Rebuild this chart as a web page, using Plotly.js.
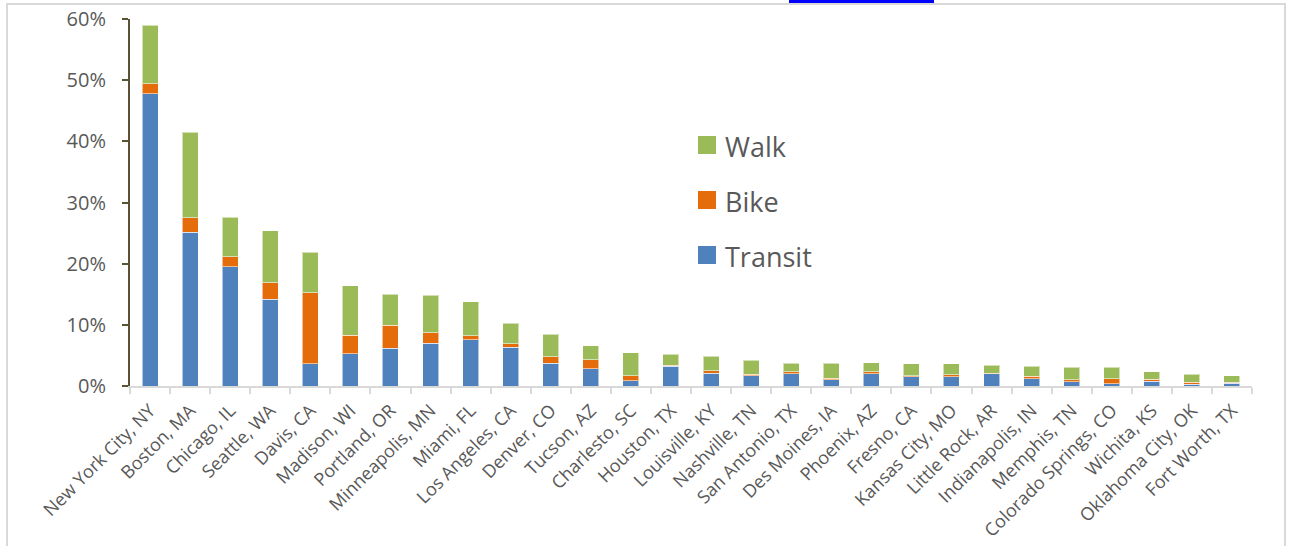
<!DOCTYPE html>
<html><head><meta charset="utf-8">
<script src="https://cdn.plot.ly/plotly-3.0.1.min.js"></script>
<style>
html,body{margin:0;padding:0;background:#fff;overflow:hidden}
#chart{width:1290px;height:546px;position:absolute;left:0;top:0}
#frame{position:absolute;left:6px;top:3px;width:1280px;height:600px;border:2px solid #d9d9d9;box-sizing:border-box;pointer-events:none}
#link{position:absolute;left:789px;top:0;width:145px;height:3px;background:#0000ff}
</style></head><body>
<div id="chart"></div><div id="frame"></div><div id="link"></div>
<script>
const cities = ["New York City, NY","Boston, MA","Chicago, IL","Seattle, WA","Davis, CA","Madison, WI","Portland, OR","Minneapolis, MN","Miami, FL","Los Angeles, CA","Denver, CO","Tucson, AZ","Charlesto, SC","Houston, TX","Louisville, KY","Nashville, TN","San Antonio, TX","Des Moines, IA","Phoenix, AZ","Fresno, CA","Kansas City, MO","Little Rock, AR","Indianapolis, IN","Memphis, TN","Colorado Springs, CO","Wichita, KS","Oklahoma City, OK","Fort Worth, TX"];
const transit = [47.8,25.1,19.5,14.2,3.6,5.3,6.2,7.0,7.6,6.3,3.7,2.8,0.9,3.2,2.1,1.7,2.0,1.0,2.0,1.5,1.5,2.0,1.2,0.7,0.4,0.8,0.3,0.45];
const bike    = [1.6,2.4,1.6,2.7,11.65,3.0,3.7,1.7,0.6,0.6,1.1,1.5,0.8,0.2,0.4,0.25,0.3,0.3,0.3,0.2,0.3,0.1,0.4,0.3,0.8,0.3,0.3,0.2];
const walk    = [9.6,14.0,6.5,8.5,6.65,8.1,5.1,6.1,5.6,3.4,3.7,2.3,3.7,1.8,2.35,2.3,1.45,2.45,1.5,1.9,1.8,1.3,1.6,2.05,1.85,1.2,1.3,1.0];
const seriesNames = ["Transit","Bike","Walk"];
const colors = {Transit:"#4f81bd", Bike:"#e46c0a", Walk:"#9bbb59"};
const yTicks = [0,10,20,30,40,50,60];

const W = 1290, H = 546;
const M = {l:130, r:38, t:19, b:160};
const pw = W - M.l - M.r, ph = H - M.t - M.b;
const px2x = p => (p - M.l) / pw;
const py2y = p => (H - M.b - p) / ph;

const values = {Transit: transit, Bike: bike, Walk: walk};
const traces = seriesNames.map(n => ({
  type: "bar", name: n, x: cities, y: values[n],
  marker: {color: colors[n], line: {color: "rgba(255,255,255,0.55)", width: 1}},
  showlegend: false, hoverinfo: "x+y+name"
}));

// custom legend (Walk, Bike, Transit top to bottom)
const legendOrder = ["Walk","Bike","Transit"];
const legendY = [145, 200, 255];
const shapes = [], annotations = [];
legendOrder.forEach((n, i) => {
  shapes.push({type:"rect", xref:"paper", yref:"paper",
    x0: px2x(698), x1: px2x(716), y0: py2y(legendY[i]-9), y1: py2y(legendY[i]+9),
    fillcolor: colors[n], line: {width: 0}});
  annotations.push({xref:"paper", yref:"paper", x: px2x(723), y: py2y(legendY[i]+1),
    xanchor:"left", yanchor:"middle", showarrow:false, text: n,
    font: {family:"Open Sans, sans-serif", size: 27, color:"#595959"}});
});

const layout = {
  width: W, height: H, margin: M,
  paper_bgcolor: "#ffffff", plot_bgcolor: "#ffffff",
  barmode: "stack", bargap: 0.6,
  font: {family: "Open Sans, sans-serif", color: "#595959"},
  xaxis: {
    type: "category", tickangle: -45, tickson: "boundaries",
    showline: true, linecolor: "#d9d9d9", linewidth: 2,
    ticks: "outside", ticklen: 6, tickwidth: 2, tickcolor: "#d9d9d9",
    ticklabelstandoff: 5,
    showgrid: false, zeroline: false,
    tickfont: {family: "Open Sans, sans-serif", size: 18, color: "#595959"}
  },
  yaxis: {
    range: [0, 60], tickvals: yTicks, ticktext: yTicks.map(v => v + "%"),
    showline: true, linecolor: "#595236", linewidth: 2,
    ticks: "outside", ticklen: 6, tickwidth: 2, tickcolor: "#595236",
    ticklabelstandoff: 12,
    showgrid: false, zeroline: false,
    tickfont: {family: "Open Sans, sans-serif", size: 20, color: "#595959"}
  },
  shapes: shapes, annotations: annotations
};

Plotly.newPlot("chart", traces, layout, {displayModeBar: false, staticPlot: true});
</script>
</body></html>
